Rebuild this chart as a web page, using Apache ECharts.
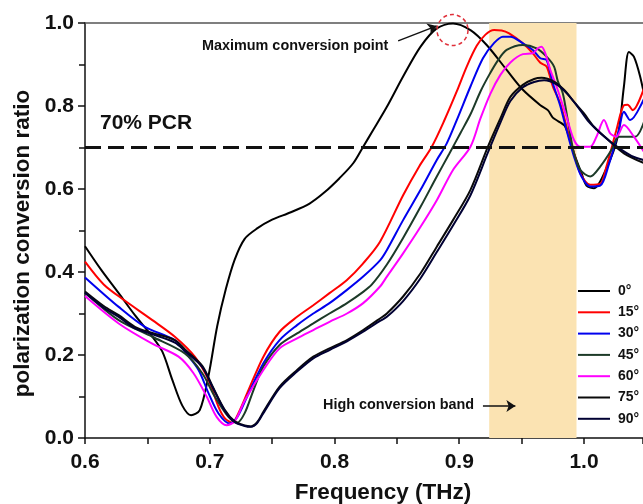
<!DOCTYPE html>
<html>
<head>
<meta charset="utf-8">
<script src="https://cdn.jsdelivr.net/npm/echarts@6/dist/echarts.min.js"></script>
<style>
  html, body { margin: 0; padding: 0; background: #fff; }
  #chart { width: 643px; height: 504px; }
</style>
</head>
<body>
<div id="chart"></div>
<script>
// angle names for the legend
var angleNames = ["0°", "15°", "30°", "45°", "60°", "75°", "90°"];
var angleColors = ["#000000", "#ff0000", "#0000ee", "#1c3a28", "#ff00ff", "#0a0a0a", "#000033"];

// [frequency THz, PCR]
var deg0 = [[0.600,0.462],[0.613,0.405],[0.627,0.349],[0.640,0.296],[0.653,0.248],[0.662,0.208],[0.670,0.140],[0.678,0.078],[0.685,0.055],[0.692,0.067],[0.699,0.150],[0.706,0.270],[0.713,0.360],[0.720,0.430],[0.728,0.480],[0.738,0.505],[0.750,0.526],[0.765,0.544],[0.780,0.565],[0.792,0.592],[0.804,0.626],[0.815,0.662],[0.823,0.702],[0.831,0.742],[0.842,0.798],[0.855,0.871],[0.869,0.943],[0.882,0.987],[0.895,0.999],[0.909,0.983],[0.922,0.947],[0.938,0.887],[0.951,0.839],[0.965,0.802],[0.971,0.790],[0.975,0.772],[0.979,0.764],[0.985,0.750],[0.992,0.686],[0.998,0.638],[1.002,0.608],[1.008,0.602],[1.018,0.650],[1.027,0.726],[1.032,0.847],[1.036,0.930],[1.040,0.919],[1.045,0.871],[1.050,0.800]];
var deg15 = [[0.600,0.425],[0.615,0.370],[0.631,0.333],[0.654,0.284],[0.672,0.244],[0.688,0.196],[0.699,0.140],[0.707,0.075],[0.712,0.048],[0.718,0.037],[0.723,0.060],[0.730,0.108],[0.743,0.196],[0.756,0.256],[0.770,0.292],[0.783,0.320],[0.796,0.349],[0.810,0.381],[0.823,0.421],[0.8365,0.473],[0.855,0.585],[0.868,0.655],[0.878,0.702],[0.888,0.765],[0.898,0.835],[0.906,0.895],[0.914,0.945],[0.921,0.972],[0.928,0.983],[0.934,0.982],[0.940,0.975],[0.951,0.951],[0.959,0.927],[0.965,0.904],[0.970,0.895],[0.975,0.847],[0.981,0.806],[0.986,0.750],[0.992,0.686],[0.997,0.638],[1.005,0.610],[1.013,0.612],[1.018,0.654],[1.026,0.742],[1.032,0.802],[1.035,0.803],[1.039,0.790],[1.050,0.860]];
var deg30 = [[0.600,0.387],[0.627,0.316],[0.648,0.268],[0.672,0.236],[0.680,0.208],[0.691,0.164],[0.699,0.108],[0.707,0.059],[0.716,0.035],[0.722,0.050],[0.730,0.100],[0.743,0.180],[0.756,0.236],[0.770,0.272],[0.783,0.300],[0.796,0.325],[0.810,0.357],[0.823,0.389],[0.8365,0.428],[0.842,0.453],[0.855,0.525],[0.869,0.598],[0.882,0.670],[0.890,0.710],[0.898,0.766],[0.909,0.847],[0.919,0.915],[0.928,0.952],[0.935,0.967],[0.941,0.967],[0.951,0.951],[0.959,0.935],[0.965,0.915],[0.970,0.911],[0.975,0.855],[0.981,0.800],[0.986,0.742],[0.992,0.678],[0.998,0.630],[1.005,0.606],[1.013,0.608],[1.020,0.660],[1.028,0.742],[1.032,0.786],[1.037,0.766],[1.050,0.831]];
var deg45 = [[0.600,0.350],[0.627,0.284],[0.654,0.244],[0.680,0.204],[0.694,0.156],[0.704,0.100],[0.715,0.051],[0.722,0.037],[0.728,0.060],[0.735,0.115],[0.743,0.172],[0.756,0.224],[0.770,0.252],[0.783,0.276],[0.796,0.300],[0.810,0.325],[0.823,0.352],[0.830,0.370],[0.842,0.418],[0.855,0.482],[0.869,0.557],[0.882,0.630],[0.892,0.685],[0.901,0.735],[0.909,0.780],[0.917,0.835],[0.924,0.875],[0.931,0.910],[0.938,0.935],[0.951,0.947],[0.962,0.939],[0.970,0.919],[0.976,0.895],[0.979,0.860],[0.983,0.831],[0.987,0.766],[0.992,0.686],[0.997,0.646],[1.005,0.630],[1.013,0.654],[1.022,0.694],[1.028,0.726],[1.041,0.726],[1.050,0.780]];
var deg60 = [[0.600,0.342],[0.627,0.276],[0.6535,0.228],[0.675,0.196],[0.687,0.156],[0.6975,0.100],[0.7055,0.051],[0.7135,0.031],[0.720,0.040],[0.728,0.090],[0.743,0.164],[0.756,0.216],[0.770,0.240],[0.783,0.260],[0.796,0.280],[0.810,0.300],[0.823,0.325],[0.8365,0.365],[0.842,0.389],[0.855,0.445],[0.869,0.509],[0.882,0.573],[0.895,0.646],[0.909,0.702],[0.917,0.770],[0.925,0.830],[0.933,0.875],[0.941,0.905],[0.951,0.925],[0.959,0.927],[0.963,0.939],[0.966,0.943],[0.969,0.927],[0.973,0.887],[0.978,0.847],[0.986,0.774],[0.992,0.718],[0.997,0.702],[1.005,0.702],[1.010,0.726],[1.016,0.766],[1.021,0.734],[1.026,0.726],[1.032,0.754],[1.040,0.726],[1.050,0.680]];
var deg75 = [[0.600,0.353],[0.615,0.318],[0.627,0.296],[0.640,0.268],[0.654,0.253],[0.672,0.236],[0.680,0.214],[0.694,0.174],[0.702,0.126],[0.712,0.068],[0.720,0.040],[0.728,0.030],[0.733,0.028],[0.738,0.038],[0.743,0.063],[0.756,0.124],[0.770,0.164],[0.783,0.196],[0.796,0.216],[0.810,0.236],[0.823,0.260],[0.8365,0.288],[0.842,0.300],[0.855,0.341],[0.869,0.397],[0.882,0.461],[0.895,0.525],[0.909,0.598],[0.923,0.702],[0.933,0.770],[0.941,0.822],[0.951,0.851],[0.960,0.865],[0.966,0.868],[0.976,0.859],[0.984,0.839],[0.992,0.810],[1.000,0.782],[1.008,0.750],[1.018,0.722],[1.032,0.686],[1.050,0.660]];
var deg90 = [[0.600,0.350],[0.615,0.314],[0.627,0.292],[0.640,0.264],[0.654,0.250],[0.672,0.230],[0.680,0.210],[0.694,0.171],[0.702,0.124],[0.712,0.066],[0.720,0.038],[0.728,0.029],[0.733,0.027],[0.738,0.036],[0.743,0.060],[0.756,0.120],[0.770,0.160],[0.783,0.192],[0.796,0.212],[0.810,0.233],[0.823,0.256],[0.8365,0.282],[0.842,0.292],[0.855,0.330],[0.869,0.385],[0.882,0.448],[0.895,0.512],[0.909,0.585],[0.923,0.688],[0.933,0.760],[0.941,0.812],[0.951,0.845],[0.960,0.858],[0.968,0.862],[0.978,0.852],[0.987,0.828],[0.995,0.798],[1.003,0.765],[1.013,0.735],[1.025,0.705],[1.038,0.680],[1.050,0.668]];
var seriesData = [deg0, deg15, deg30, deg45, deg60, deg75, deg90];

// axis range (picture is cut at the right edge)
var freqMin = 0.6, freqMax = 1.0473;
var freqLabels = [0.6, 0.7, 0.8, 0.9, 1.0];

// annotations
var bandRange = [0.924, 0.994];
var pcrLevel = 0.7;
var maxPoint = [0.8946, 0.983];
var maxArrow = [[0.851, 0.957], [0.882, 0.993]];
var bandArrow = [[0.919, 0.077], [0.945, 0.077]];

var font = 'Arial, "Liberation Sans", sans-serif';

var series = [];
// band + 70% line
series.push({
  name: "marks",
  type: "line",
  data: [],
  z: 1,
  markArea: {
    silent: true,
    itemStyle: { color: "#fbe3b2" },
    data: [[{ xAxis: bandRange[0] }, { xAxis: bandRange[1] }]]
  },
  markLine: {
    silent: true,
    symbol: "none",
    label: { show: false },
    lineStyle: { type: [16, 7], width: 3, color: "#111" },
    data: [{ yAxis: pcrLevel }]
  }
});
for (var i = 0; i < angleNames.length; i++) {
  series.push({
    name: angleNames[i],
    type: "line",
    smooth: 0.3,
    symbol: "none",
    z: 3,
    lineStyle: { width: 2, color: angleColors[i] },
    itemStyle: { color: angleColors[i] },
    data: seriesData[i]
  });
}
// arrows and the dashed circle
series.push({
  name: "arrows",
  type: "line",
  data: [],
  z: 5,
  markLine: {
    silent: true,
    symbol: ["none", "arrow"],
    symbolSize: 9,
    label: { show: false },
    lineStyle: { type: "solid", width: 1.5, color: "#111" },
    data: [
      [{ coord: maxArrow[0] }, { coord: maxArrow[1] }],
      [{ coord: bandArrow[0] }, { coord: bandArrow[1] }]
    ]
  },
  markPoint: {
    silent: true,
    symbol: "circle",
    symbolSize: 31,
    label: { show: false },
    itemStyle: {
      color: "rgba(0,0,0,0)",
      borderColor: "#e0303a",
      borderWidth: 1.5,
      borderType: [4, 3]
    },
    data: [{ coord: maxPoint }]
  }
});

var option = {
  backgroundColor: "#fff",
  animation: false,
  grid: { left: 85, right: 0, top: 23, bottom: 66, outerBoundsMode: "none" },
  legend: {
    data: angleNames,
    orient: "vertical",
    left: 578,
    top: 284,
    padding: 0,
    icon: "rect",
    itemWidth: 32,
    itemHeight: 2,
    itemGap: 7.3,
    textStyle: { fontFamily: font, fontWeight: "bold", fontSize: 14, color: "#111", padding: [0, 0, 0, 3] }
  },
  xAxis: [
    {
      type: "value",
      min: freqMin,
      max: freqMax,
      interval: 0.05,
      name: "Frequency (THz)",
      nameLocation: "middle",
      nameGap: 43,
      nameTextStyle: { fontFamily: font, fontWeight: "bold", fontSize: 22.5, color: "#111", padding: [0, 0, 0, 38] },
      axisLine: { lineStyle: { color: "#111", width: 1.5 } },
      axisTick: { inside: false, length: 6, lineStyle: { color: "#111", width: 1.5 } },
      splitLine: { show: false },
      axisLabel: {
        margin: 14,
        fontFamily: font,
        fontWeight: "bold",
        fontSize: 21,
        color: "#111",
        formatter: function (v) {
          for (var k = 0; k < freqLabels.length; k++) {
            if (Math.abs(v - freqLabels[k]) < 1e-6) return freqLabels[k].toFixed(1);
          }
          return "";
        }
      }
    },
    {
      type: "value",
      position: "top",
      min: freqMin,
      max: freqMax,
      axisLine: { lineStyle: { color: "#555", width: 1.5 } },
      axisTick: { show: false },
      axisLabel: { show: false },
      splitLine: { show: false }
    }
  ],
  yAxis: {
    type: "value",
    min: 0,
    max: 1,
    interval: 0.2,
    name: "polarization conversion ratio",
    nameLocation: "middle",
    nameGap: 49,
    nameTextStyle: { fontFamily: font, fontWeight: "bold", fontSize: 22.5, color: "#111", padding: [0, 26, 0, 0] },
    axisLine: { lineStyle: { color: "#111", width: 1.5 } },
    axisTick: { inside: false, length: 7, lineStyle: { color: "#111", width: 1.5 } },
    minorTick: { show: true, splitNumber: 2, length: 6, lineStyle: { color: "#111", width: 1.5 } },
    splitLine: { show: false },
    axisLabel: {
      margin: 11,
      fontFamily: font,
      fontWeight: "bold",
      fontSize: 21,
      color: "#111",
      formatter: function (v) { return v.toFixed(1); }
    }
  },
  graphic: [
    {
      type: "text", left: 100, top: 113, z: 10,
      style: { text: "70% PCR", font: "bold 21px " + font, fill: "#111" }
    },
    {
      type: "text", left: 202, top: 39, z: 10,
      style: { text: "Maximum conversion point", font: "bold 14.4px " + font, fill: "#111" }
    },
    {
      type: "text", left: 323, top: 398, z: 10,
      style: { text: "High conversion band", font: "bold 14.4px " + font, fill: "#111" }
    }
  ],
  series: series
};

var chart = echarts.init(document.getElementById("chart"));
chart.setOption(option);
</script>
</body>
</html>
